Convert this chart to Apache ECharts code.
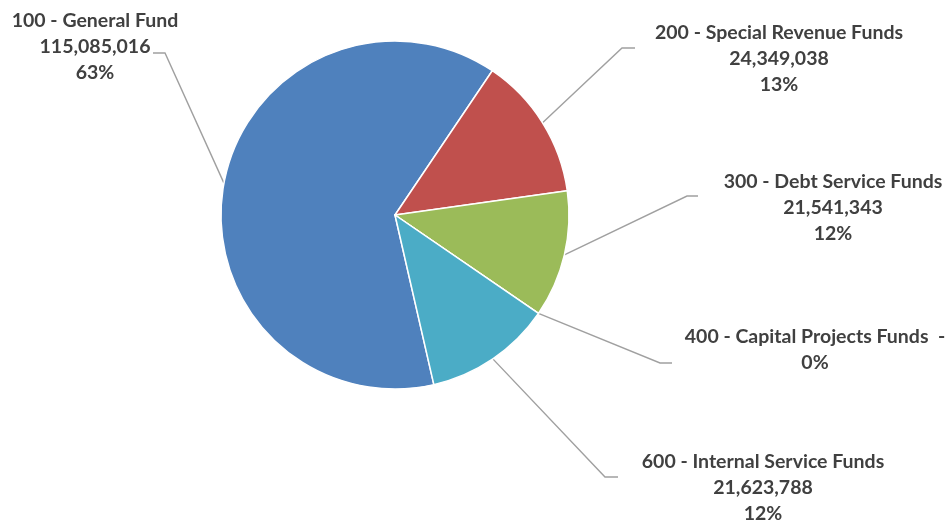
<!DOCTYPE html>
<html>
<head>
<meta charset="utf-8">
<script src="https://cdn.jsdelivr.net/npm/echarts@6/dist/echarts.min.js"></script>
<style>
  html, body { margin: 0; padding: 0; background: #ffffff; }
  #chart { width: 952px; height: 523px; }
</style>
</head>
<body>
<div id="chart"></div>
<script>
// Fund categories and their amounts
const funds = [
  '100 - General Fund',
  '200 - Special Revenue Funds',
  '300 - Debt Service Funds',
  '400 - Capital Projects Funds',
  '600 - Internal Service Funds'
];
const amounts = [115085016, 24349038, 21541343, 0, 21623788];
const fundColors = ['#4F81BD', '#C0504D', '#9BBB59', '#8064A2', '#4BACC6'];

// Where each label block sits (centre x, middle y) and the elbow of its leader line
const labelSpots = [
  { x: 95,  y: 47,  bend: [165, 53], tail: [153, 53] },
  { x: 779, y: 59,  bend: [622, 48], tail: [635, 48] },
  { x: 833, y: 208, bend: [687, 196], tail: [698, 196] },
  { x: 815, y: 350, bend: [660, 363], tail: [672, 363] },
  { x: 763, y: 488, bend: [605, 477], tail: [618, 477] }
];

const fmt = v => v.toLocaleString('en-US');

const chart = echarts.init(document.getElementById('chart'), null, { renderer: 'canvas' });

chart.setOption({
  backgroundColor: '#ffffff',
  animation: false,
  series: [{
    type: 'pie',
    center: [395, 215],
    radius: 174,
    startAngle: -77.1,
    clockwise: true,
    avoidLabelOverlap: false,
    data: funds.map((name, i) => ({
      name: name,
      value: amounts[i],
      itemStyle: { color: fundColors[i] }
    })),
    itemStyle: { borderColor: '#ffffff', borderWidth: 1.5 },
    label: {
      show: true,
      position: 'outside',
      fontFamily: 'Lato',
      fontWeight: 'bold',
      fontSize: 19.5,
      lineHeight: 26,
      color: '#404040',
      align: 'center',
      formatter: p => {
        const pct = Math.round(p.percent) + '%';
        if (p.value === 0) return p.name + '  -\n' + pct;
        return p.name + '\n' + fmt(p.value) + '\n' + pct;
      }
    },
    labelLine: {
      show: true,
      length: 20,
      length2: 10,
      lineStyle: { color: '#a0a0a0', width: 1.4 }
    },
    labelLayout: p => {
      const s = labelSpots[p.dataIndex];
      const start = p.labelLinePoints ? p.labelLinePoints[0] : s.bend;
      return {
        x: s.x,
        y: s.y,
        align: 'center',
        verticalAlign: 'middle',
        labelLinePoints: [start, s.bend, s.tail]
      };
    },
    emphasis: { disabled: true }
  }]
});
</script>
</body>
</html>
